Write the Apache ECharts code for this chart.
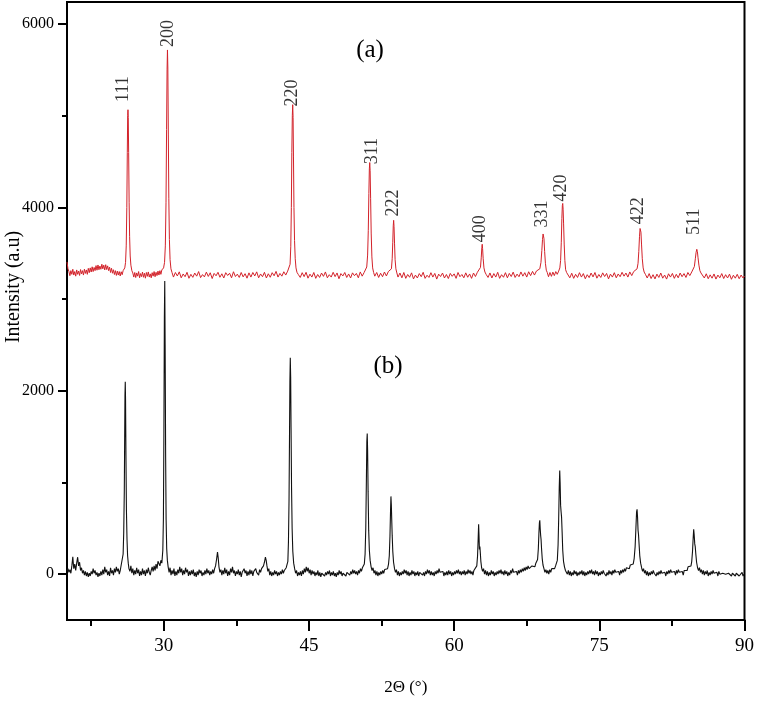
<!DOCTYPE html>
<html>
<head>
<meta charset="utf-8">
<script src="https://cdn.jsdelivr.net/npm/echarts@6/dist/echarts.min.js"></script>
<style>
  html, body { margin: 0; padding: 0; background: #fff; }
  #main { width: 757px; height: 701px; }
</style>
</head>
<body>
<div id="main"></div>
<script>
// pattern (a), red trace: [2theta, intensity]
var patternA = [
  [20.0,3405],[20.1,3330],[20.2,3300],[20.3,3255],[20.4,3310],[20.5,3270],[20.6,3325],[20.7,3262],[20.8,3300],[20.9,3250],
  [21.0,3318],[21.1,3270],[21.2,3306],[21.3,3258],[21.4,3322],[21.5,3275],[21.6,3310],[21.7,3262],[21.8,3326],[21.9,3280],
  [22.0,3318],[22.1,3270],[22.2,3335],[22.3,3288],[22.4,3340],[22.5,3295],[22.6,3352],[22.7,3300],[22.8,3345],[22.9,3310],
  [23.0,3365],[23.1,3315],[23.2,3372],[23.3,3320],[23.4,3360],[23.5,3325],[23.6,3380],[23.7,3330],[23.8,3370],[23.9,3318],
  [24.0,3375],[24.1,3322],[24.2,3362],[24.3,3310],[24.4,3348],[24.5,3290],[24.6,3336],[24.7,3282],[24.8,3320],[24.9,3268],
  [25.0,3310],[25.1,3258],[25.2,3305],[25.3,3262],[25.4,3300],[25.5,3252],[25.6,3298],[25.7,3266],[25.8,3310],[25.9,3290],
  [25.97,3340],[26.05,3400],[26.12,3580],[26.18,4000],[26.23,4600],[26.27,5000],[26.3,5065],[26.33,4980],[26.37,4600],[26.42,4050],
  [26.47,3680],[26.53,3470],[26.6,3370],[26.7,3310],[26.8,3285],[26.9,3240],[27.0,3290],[27.1,3235],[27.2,3285],[27.3,3250],
  [27.4,3300],[27.5,3232],[27.6,3278],[27.7,3245],[27.8,3295],[27.9,3238],[28.0,3282],[28.1,3228],[28.2,3290],[28.3,3248],
  [28.4,3296],[28.5,3240],[28.6,3275],[28.7,3232],[28.8,3288],[28.9,3250],[29.0,3300],[29.1,3244],[29.2,3292],[29.3,3256],
  [29.4,3305],[29.5,3262],[29.6,3310],[29.7,3270],[29.8,3318],[29.9,3300],[29.98,3340],[30.08,3400],[30.16,3580],[30.23,4050],
  [30.29,4850],[30.34,5500],[30.38,5717],[30.42,5520],[30.47,4800],[30.52,4100],[30.58,3650],[30.65,3430],[30.74,3330],[30.85,3290],
  [31.0,3240],[31.2,3290],[31.4,3252],[31.6,3297],[31.8,3232],[32.0,3274],[32.2,3244],[32.4,3292],[32.6,3227],[32.8,3270],
  [33.0,3237],[33.2,3284],[33.4,3250],[33.6,3300],[33.8,3234],[34.0,3267],[34.2,3242],[34.4,3294],[34.6,3247],[34.8,3287],
  [35.0,3224],[35.2,3280],[35.4,3254],[35.6,3292],[35.8,3238],[36.0,3276],[36.2,3230],[36.4,3288],[36.6,3257],[36.8,3282],
  [37.0,3232],[37.2,3298],[37.4,3246],[37.6,3272],[37.8,3236],[38.0,3290],[38.2,3242],[38.4,3277],[38.6,3228],[38.8,3286],
  [39.0,3240],[39.2,3290],[39.4,3252],[39.6,3297],[39.8,3232],[40.0,3274],[40.2,3244],[40.4,3292],[40.6,3230],[40.8,3276],
  [41.0,3238],[41.2,3288],[41.4,3254],[41.6,3302],[41.8,3240],[42.0,3280],[42.2,3250],[42.4,3298],[42.6,3262],[42.8,3305],
  [42.95,3315],[43.05,3380],[43.12,3570],[43.18,4000],[43.23,4600],[43.28,5000],[43.32,5120],[43.36,4980],[43.4,4550],[43.45,4000],
  [43.51,3640],[43.58,3440],[43.66,3340],[43.76,3292],[43.9,3268],[44.1,3236],[44.3,3288],[44.5,3245],[44.7,3292],[44.9,3228],
  [45.1,3272],[45.3,3240],[45.5,3290],[45.7,3226],[45.9,3268],[46.1,3236],[46.3,3284],[46.5,3248],[46.7,3296],[46.9,3232],
  [47.1,3266],[47.3,3240],[47.5,3292],[47.7,3245],[47.9,3285],[48.1,3222],[48.3,3278],[48.5,3252],[48.7,3290],[48.9,3236],
  [49.1,3274],[49.3,3230],[49.5,3286],[49.7,3255],[49.9,3280],[50.1,3232],[50.3,3296],[50.5,3250],[50.7,3290],[50.85,3305],
  [50.97,3350],[51.06,3480],[51.13,3750],[51.19,4150],[51.24,4420],[51.28,4489],[51.32,4400],[51.37,4100],[51.43,3720],[51.5,3460],
  [51.58,3340],[51.68,3290],[51.8,3250],[52.0,3290],[52.2,3236],[52.4,3282],[52.6,3244],[52.8,3295],[53.0,3252],[53.2,3300],
  [53.4,3285],[53.52,3330],[53.6,3440],[53.66,3620],[53.71,3800],[53.75,3859],[53.79,3790],[53.84,3610],[53.9,3430],[53.98,3330],
  [54.08,3285],[54.2,3240],[54.4,3284],[54.6,3232],[54.8,3290],[55.0,3226],[55.2,3268],[55.4,3238],[55.6,3286],[55.8,3220],
  [56.0,3262],[56.2,3230],[56.4,3278],[56.6,3244],[56.8,3292],[57.0,3226],[57.2,3260],[57.4,3236],[57.6,3288],[57.8,3240],
  [58.0,3280],[58.2,3218],[58.4,3272],[58.6,3246],[58.8,3284],[59.0,3230],[59.2,3268],[59.4,3224],[59.6,3280],[59.8,3248],
  [60.0,3275],[60.2,3226],[60.4,3290],[60.6,3244],[60.8,3268],[61.0,3232],[61.2,3286],[61.4,3238],[61.6,3274],[61.8,3226],
  [62.0,3284],[62.2,3246],[62.4,3292],[62.6,3300],[62.72,3345],[62.8,3450],[62.86,3560],[62.9,3598],[62.94,3550],[63.0,3440],
  [63.08,3340],[63.18,3295],[63.3,3270],[63.5,3236],[63.7,3285],[63.9,3230],[64.1,3278],[64.3,3240],[64.5,3292],[64.7,3226],
  [64.9,3266],[65.1,3238],[65.3,3288],[65.5,3232],[65.7,3280],[65.9,3246],[66.1,3294],[66.3,3236],[66.5,3272],[66.7,3244],
  [66.9,3296],[67.1,3250],[67.3,3288],[67.5,3240],[67.7,3298],[67.9,3256],[68.1,3302],[68.3,3262],[68.5,3306],[68.7,3296],
  [68.85,3330],[68.97,3400],[69.06,3530],[69.13,3650],[69.19,3710],[69.23,3717],[69.28,3660],[69.35,3520],[69.43,3390],[69.52,3315],
  [69.62,3290],[69.75,3244],[69.9,3290],[70.05,3248],[70.2,3294],[70.35,3256],[70.5,3300],[70.65,3270],[70.8,3305],[70.92,3340],
  [71.0,3420],[71.07,3620],[71.13,3880],[71.18,4020],[71.22,4043],[71.26,3980],[71.31,3820],[71.37,3600],[71.44,3420],[71.52,3320],
  [71.62,3290],[71.76,3270],[71.95,3232],[72.15,3282],[72.35,3226],[72.55,3270],[72.75,3236],[72.95,3288],[73.15,3240],[73.35,3278],
  [73.55,3222],[73.75,3266],[73.95,3234],[74.15,3284],[74.35,3242],[74.55,3290],[74.75,3228],[74.95,3268],[75.15,3236],[75.35,3286],
  [75.55,3246],[75.75,3280],[75.95,3220],[76.15,3272],[76.35,3240],[76.55,3288],[76.75,3232],[76.95,3274],[77.15,3244],[77.35,3292],
  [77.55,3250],[77.75,3284],[77.95,3240],[78.15,3296],[78.35,3256],[78.55,3300],[78.75,3298],[78.9,3330],[79.0,3390],[79.08,3520],
  [79.15,3680],[79.21,3770],[79.25,3783],[79.3,3730],[79.36,3600],[79.44,3440],[79.53,3340],[79.63,3295],[79.76,3270],[79.95,3230],
  [80.15,3278],[80.35,3224],[80.55,3266],[80.75,3220],[80.95,3272],[81.15,3236],[81.35,3284],[81.55,3228],[81.75,3262],[81.95,3218],
  [82.15,3276],[82.35,3240],[82.55,3280],[82.75,3226],[82.95,3270],[83.15,3232],[83.35,3284],[83.55,3244],[83.75,3278],[83.95,3236],
  [84.15,3290],[84.35,3256],[84.55,3296],[84.7,3310],[84.82,3355],[84.92,3440],[85.0,3510],[85.07,3543],[85.13,3520],[85.2,3450],
  [85.29,3370],[85.39,3310],[85.5,3285],[85.65,3272],[85.85,3230],[86.05,3276],[86.25,3222],[86.45,3264],[86.65,3228],[86.85,3274],
  [87.05,3218],[87.25,3262],[87.45,3232],[87.65,3278],[87.85,3224],[88.05,3266],[88.25,3230],[88.45,3272],[88.65,3216],[88.85,3260],
  [89.05,3228],[89.25,3270],[89.45,3222],[89.65,3262],[89.85,3230],[90.0,3252]
];

// pattern (b), black trace
var patternB = [
  [20.0,30],[20.1,60],[20.2,20],[20.3,50],[20.4,10],[20.5,90],[20.6,190],[20.65,120],[20.7,60],[20.8,110],
  [20.9,40],[21.0,120],[21.1,185],[21.2,90],[21.3,130],[21.4,40],[21.5,70],[21.6,10],[21.7,40],[21.8,-10],
  [21.9,30],[22.0,-20],[22.1,20],[22.2,-30],[22.3,10],[22.4,-20],[22.5,30],[22.6,0],[22.7,60],[22.8,10],
  [22.9,40],[23.0,-10],[23.1,20],[23.2,-30],[23.3,10],[23.4,-20],[23.5,30],[23.6,-10],[23.7,50],[23.8,0],
  [23.9,80],[24.0,20],[24.1,50],[24.2,-10],[24.3,30],[24.4,-20],[24.5,70],[24.6,10],[24.7,40],[24.8,-10],
  [24.9,60],[25.0,20],[25.1,80],[25.2,30],[25.3,60],[25.4,0],[25.5,40],[25.6,100],[25.7,90],[25.8,220],
  [25.86,450],[25.92,900],[25.96,1500],[25.99,1950],[26.02,2098],[26.05,1900],[26.09,1300],[26.14,700],[26.2,380],[26.26,200],
  [26.33,120],[26.4,60],[26.5,30],[26.6,90],[26.7,10],[26.8,60],[26.9,-10],[27.0,40],[27.1,0],[27.2,70],
  [27.3,10],[27.4,50],[27.5,-20],[27.6,30],[27.7,-10],[27.8,60],[27.9,0],[28.0,40],[28.1,-20],[28.2,50],
  [28.3,10],[28.4,70],[28.5,20],[28.6,-10],[28.7,40],[28.8,80],[28.9,30],[29.0,90],[29.1,40],[29.2,110],
  [29.3,60],[29.4,140],[29.5,120],[29.6,90],[29.7,150],[29.8,120],[29.9,260],[29.96,600],[30.01,1500],[30.06,2800],
  [30.1,3196],[30.14,2500],[30.19,1300],[30.24,600],[30.3,280],[30.37,150],[30.45,80],[30.55,20],[30.65,70],[30.75,-10],
  [30.85,40],[30.95,0],[31.05,60],[31.15,-20],[31.25,30],[31.35,-10],[31.45,50],[31.55,10],[31.65,80],[31.75,20],
  [31.85,60],[31.95,-10],[32.05,40],[32.15,0],[32.25,70],[32.35,20],[32.45,50],[32.55,-20],[32.65,30],[32.75,-10],
  [32.85,40],[32.95,0],[33.05,50],[33.15,-20],[33.25,20],[33.35,-30],[33.45,30],[33.55,-10],[33.65,50],[33.75,10],
  [33.85,40],[33.95,-20],[34.05,20],[34.15,-10],[34.25,40],[34.35,0],[34.45,60],[34.55,10],[34.65,40],[34.75,-10],
  [34.85,30],[34.95,0],[35.05,50],[35.15,10],[35.25,60],[35.35,90],[35.45,160],[35.55,240],[35.62,180],[35.7,80],
  [35.8,20],[35.9,50],[36.0,-10],[36.1,40],[36.2,0],[36.3,70],[36.4,10],[36.5,50],[36.6,-20],[36.7,30],
  [36.8,-10],[36.9,60],[37.0,20],[37.1,80],[37.2,10],[37.3,40],[37.4,-20],[37.5,30],[37.6,0],[37.7,50],
  [37.8,-10],[37.9,30],[38.0,-30],[38.1,20],[38.2,0],[38.3,60],[38.4,10],[38.5,40],[38.6,-20],[38.7,30],
  [38.8,-10],[38.9,50],[39.0,0],[39.1,40],[39.2,-20],[39.3,30],[39.4,10],[39.5,60],[39.6,20],[39.7,40],
  [39.8,-10],[39.9,50],[40.0,20],[40.1,60],[40.2,40],[40.3,90],[40.4,130],[40.5,185],[40.58,150],[40.66,90],
  [40.75,30],[40.85,60],[40.95,-10],[41.05,30],[41.15,-20],[41.25,20],[41.35,-10],[41.45,40],[41.55,0],[41.65,30],
  [41.75,-20],[41.85,20],[41.95,-10],[42.05,30],[42.15,0],[42.25,50],[42.35,10],[42.45,40],[42.55,20],[42.65,70],
  [42.75,60],[42.82,140],[42.88,350],[42.94,800],[42.99,1500],[43.03,2100],[43.07,2359],[43.11,2150],[43.15,1600],[43.2,950],
  [43.26,500],[43.33,250],[43.42,120],[43.52,60],[43.62,10],[43.72,40],[43.82,-20],[43.92,20],[44.02,-10],[44.12,30],
  [44.22,-20],[44.32,40],[44.42,0],[44.52,60],[44.62,20],[44.72,80],[44.82,30],[44.92,70],[45.02,10],[45.12,50],
  [45.22,-10],[45.32,40],[45.42,0],[45.52,30],[45.62,-20],[45.72,20],[45.82,-10],[45.92,40],[46.02,-20],[46.12,20],
  [46.22,-30],[46.32,10],[46.42,-10],[46.52,30],[46.62,-20],[46.72,20],[46.82,-10],[46.92,30],[47.02,0],[47.12,40],
  [47.22,-20],[47.32,20],[47.42,-10],[47.52,30],[47.62,-20],[47.72,10],[47.82,-30],[47.92,20],[48.02,-10],[48.12,40],
  [48.22,0],[48.32,30],[48.42,-20],[48.52,10],[48.62,-10],[48.72,30],[48.82,-20],[48.92,20],[49.02,0],[49.12,40],
  [49.22,-10],[49.32,30],[49.42,0],[49.52,50],[49.62,10],[49.72,40],[49.82,0],[49.92,30],[50.02,-10],[50.12,40],
  [50.22,10],[50.32,60],[50.42,30],[50.52,70],[50.62,60],[50.72,110],[50.8,220],[50.87,500],[50.93,1000],[50.98,1450],
  [51.02,1533],[51.06,1350],[51.11,900],[51.17,480],[51.24,260],[51.32,150],[51.42,80],[51.52,40],[51.62,70],[51.72,10],
  [51.82,40],[51.92,-10],[52.02,30],[52.12,-20],[52.22,20],[52.32,-10],[52.42,30],[52.52,0],[52.62,40],[52.72,10],
  [52.82,50],[52.92,30],[53.02,70],[53.12,60],[53.22,110],[53.3,200],[53.37,420],[53.43,700],[53.47,848],[53.51,760],
  [53.55,600],[53.6,420],[53.66,250],[53.74,130],[53.84,60],[53.94,20],[54.04,50],[54.14,-10],[54.24,30],[54.34,-20],
  [54.44,20],[54.54,-10],[54.64,30],[54.74,0],[54.84,50],[54.94,10],[55.04,40],[55.14,-10],[55.24,30],[55.34,-20],
  [55.44,20],[55.54,-10],[55.64,40],[55.74,0],[55.84,30],[55.94,-20],[56.04,20],[56.14,-10],[56.24,30],[56.34,-20],
  [56.44,20],[56.54,0],[56.64,40],[56.74,-10],[56.84,20],[56.94,-20],[57.04,30],[57.14,0],[57.24,50],[57.34,10],
  [57.44,40],[57.54,-10],[57.64,30],[57.74,-10],[57.84,20],[57.94,-20],[58.04,30],[58.14,0],[58.24,40],[58.34,10],
  [58.44,60],[58.54,20],[58.64,40],[58.74,0],[58.84,30],[58.94,-20],[59.04,20],[59.14,-10],[59.24,30],[59.34,-10],
  [59.44,40],[59.54,0],[59.64,30],[59.74,-20],[59.84,20],[59.94,-10],[60.04,30],[60.14,0],[60.24,40],[60.34,10],
  [60.44,50],[60.54,0],[60.64,30],[60.74,-10],[60.84,30],[60.94,0],[61.04,40],[61.14,-10],[61.24,30],[61.34,0],
  [61.44,50],[61.54,10],[61.64,40],[61.74,0],[61.84,30],[61.94,-10],[62.04,40],[62.14,20],[62.24,60],[62.34,90],
  [62.42,200],[62.48,380],[62.53,543],[62.57,420],[62.61,270],[62.66,300],[62.7,240],[62.76,140],[62.84,70],[62.94,30],
  [63.04,60],[63.14,0],[63.24,40],[63.34,-10],[63.44,30],[63.54,-20],[63.64,20],[63.74,-10],[63.84,40],[63.94,0],
  [64.04,30],[64.14,-20],[64.24,20],[64.34,-10],[64.44,30],[64.54,0],[64.64,40],[64.74,10],[64.84,50],[64.94,0],
  [65.04,30],[65.14,-10],[65.24,40],[65.34,0],[65.44,30],[65.54,-20],[65.64,20],[65.74,-10],[65.84,40],[65.94,10],
  [66.04,60],[66.14,20],[66.24,40],[66.34,0],[66.44,30],[66.54,-10],[66.64,40],[66.74,10],[66.84,50],[66.94,20],
  [67.04,60],[67.14,30],[67.24,70],[67.34,40],[67.44,80],[67.54,50],[67.64,90],[67.74,60],[67.84,80],[67.94,50],
  [68.04,90],[68.14,70],[68.24,110],[68.34,80],[68.44,120],[68.54,100],[68.62,160],[68.7,280],[68.76,450],[68.81,560],
  [68.85,587],[68.89,500],[68.94,420],[68.98,380],[69.03,280],[69.1,170],[69.18,100],[69.28,60],[69.38,20],[69.48,50],
  [69.58,10],[69.68,40],[69.78,0],[69.88,50],[69.98,20],[70.08,60],[70.18,40],[70.28,80],[70.38,60],[70.48,90],
  [70.58,80],[70.66,150],[70.74,320],[70.8,600],[70.86,950],[70.91,1130],[70.95,1000],[71.0,750],[71.05,680],[71.1,620],
  [71.16,450],[71.22,260],[71.3,140],[71.4,80],[71.5,40],[71.6,60],[71.7,0],[71.8,40],[71.9,-10],[72.0,30],
  [72.1,-20],[72.2,20],[72.3,-10],[72.4,40],[72.5,0],[72.6,30],[72.7,-20],[72.8,20],[72.9,-10],[73.0,30],
  [73.1,0],[73.2,40],[73.3,-10],[73.4,30],[73.5,-20],[73.6,20],[73.7,-10],[73.8,30],[73.9,0],[74.0,40],
  [74.1,10],[74.2,50],[74.3,0],[74.4,30],[74.5,-10],[74.6,40],[74.7,0],[74.8,30],[74.9,-20],[75.0,20],
  [75.1,-10],[75.2,30],[75.3,0],[75.4,40],[75.5,10],[75.6,30],[75.7,-20],[75.8,20],[75.9,-10],[76.0,40],
  [76.1,0],[76.2,30],[76.3,-10],[76.4,40],[76.5,10],[76.6,50],[76.7,20],[76.8,40],[76.9,0],[77.0,30],
  [77.1,-10],[77.2,40],[77.3,10],[77.4,50],[77.5,20],[77.6,60],[77.7,30],[77.8,70],[77.9,50],[78.0,90],
  [78.1,60],[78.2,100],[78.3,80],[78.4,120],[78.5,110],[78.6,170],[78.7,300],[78.78,500],[78.85,680],[78.9,707],
  [78.95,620],[79.0,480],[79.05,430],[79.1,340],[79.18,200],[79.27,120],[79.37,70],[79.47,30],[79.57,60],[79.67,10],
  [79.77,40],[79.87,-10],[79.97,30],[80.07,-20],[80.17,20],[80.27,-10],[80.37,30],[80.47,0],[80.57,40],[80.67,10],
  [80.77,30],[80.87,-20],[80.97,20],[81.07,-10],[81.17,30],[81.27,0],[81.37,40],[81.47,10],[81.57,30],[81.67,-10],
  [81.77,20],[81.87,-20],[81.97,30],[82.07,0],[82.17,40],[82.27,10],[82.37,50],[82.47,20],[82.57,40],[82.67,0],
  [82.77,30],[82.87,-10],[82.97,40],[83.07,10],[83.17,50],[83.27,20],[83.37,40],[83.47,0],[83.57,30],[83.67,-10],
  [83.77,40],[83.87,20],[83.97,60],[84.07,40],[84.17,80],[84.27,60],[84.37,100],[84.47,90],[84.55,140],[84.63,250],
  [84.7,400],[84.75,489],[84.8,430],[84.86,330],[84.91,300],[84.97,220],[85.05,130],[85.15,70],[85.25,40],[85.35,70],
  [85.45,20],[85.55,50],[85.65,0],[85.75,40],[85.85,-10],[85.95,30],[86.05,0],[86.15,40],[86.25,-20],[86.35,20],
  [86.45,-10],[86.55,30],[86.65,0],[86.75,40],[86.85,10],[86.95,30],[87.05,-10],[87.15,20],[87.25,-20],[87.35,30],
  [87.45,0],[87.55,20],[87.65,-20],[87.75,10],[87.85,-10],[87.95,30],[88.05,0],[88.15,20],[88.25,-20],[88.35,10],
  [88.45,-10],[88.55,20],[88.65,-20],[88.75,10],[88.85,-10],[88.95,20],[89.05,-20],[89.15,10],[89.25,-10],[89.35,20],
  [89.45,-20],[89.55,0],[89.65,-10],[89.75,20],[89.85,-20],[89.95,0]
];

// hkl labels over the red peaks: text, 2theta of the label, intensity at the label foot
var peakLabels = ['111', '200', '220', '311', '222', '400', '331', '420', '422', '511'];
var peakLabelTheta = [25.8, 30.43, 43.24, 51.51, 53.68, 62.67, 69.07, 71.03, 78.99, 84.77];
var peakLabelFoot = [5150, 5750, 5100, 4470, 3900, 3620, 3780, 4065, 3815, 3700];

var xMajorTicks = [30, 45, 60, 75, 90];
var xMinorTicks = [22.5, 37.5, 52.5, 67.5, 82.5];
var yMajorTicks = [0, 2000, 4000, 6000];
var yMinorTicks = [1000, 3000, 5000];

var serif = 'Liberation Serif';

var labelData = peakLabels.map(function (t, i) {
  return { name: t, value: [peakLabelTheta[i], peakLabelFoot[i]] };
});

var chartDom = document.getElementById('main');
var myChart = echarts.init(chartDom);
var option;

option = {
  animation: false,
  backgroundColor: '#fff',
  grid: {
    left: 67, right: 12, top: 2, bottom: 79,
    show: true, borderColor: '#000', borderWidth: 2
  },
  xAxis: [
    {
      type: 'value', min: 20, max: 90, position: 'bottom',
      axisLine: { show: true, onZero: false, lineStyle: { color: '#000', width: 2 } },
      axisTick: { show: true, customValues: xMajorTicks, length: 11, lineStyle: { color: '#000', width: 2 } },
      axisLabel: { customValues: xMajorTicks, color: '#000', fontFamily: serif, fontSize: 19, margin: 17 },
      splitLine: { show: false },
      name: '2\u0398 (\u00b0)', nameLocation: 'middle', nameGap: 59,
      nameTextStyle: { color: '#000', fontFamily: serif, fontSize: 17 }
    },
    {
      type: 'value', min: 20, max: 90, position: 'bottom',
      axisLine: { show: false, onZero: false },
      axisTick: { show: true, customValues: xMinorTicks, length: 6, lineStyle: { color: '#000', width: 2 } },
      axisLabel: { show: false },
      splitLine: { show: false }
    }
  ],
  yAxis: [
    {
      type: 'value', min: -500, max: 6240, position: 'left',
      axisLine: { show: true, onZero: false, lineStyle: { color: '#000', width: 2 } },
      axisTick: { show: true, customValues: yMajorTicks, length: 9, lineStyle: { color: '#000', width: 2 } },
      axisLabel: {
        customValues: yMajorTicks, color: '#000', fontFamily: serif, fontSize: 16, margin: 13,
        formatter: function (v) { return String(v); }
      },
      splitLine: { show: false }
    },
    {
      type: 'value', min: -500, max: 6240, position: 'left',
      axisLine: { show: false, onZero: false },
      axisTick: { show: true, customValues: yMinorTicks, length: 5, lineStyle: { color: '#000', width: 2 } },
      axisLabel: { show: false },
      splitLine: { show: false }
    }
  ],
  graphic: [
    {
      type: 'text', x: 14, y: 287, rotation: Math.PI / 2,
      style: { text: 'Intensity (a.u)', fill: '#000', font: '20px "Liberation Serif"', textAlign: 'center', textVerticalAlign: 'middle' }
    },
    {
      type: 'text', x: 370, y: 50,
      style: { text: '(a)', fill: '#000', font: '25px "Liberation Serif"', textAlign: 'center', textVerticalAlign: 'middle' }
    },
    {
      type: 'text', x: 388, y: 366,
      style: { text: '(b)', fill: '#000', font: '25px "Liberation Serif"', textAlign: 'center', textVerticalAlign: 'middle' }
    }
  ],
  series: [
    {
      name: '(b)', type: 'line', data: patternB, showSymbol: false, silent: true,
      lineStyle: { color: '#111', width: 1.1 }, z: 2
    },
    {
      name: '(a)', type: 'line', data: patternA, showSymbol: false, silent: true,
      lineStyle: { color: '#d3222a', width: 1 }, z: 3
    },
    {
      name: 'hkl', type: 'scatter', data: labelData, symbolSize: 0, silent: true, z: 4,
      label: {
        show: true, formatter: '{b}', position: [0, 0], rotate: 90,
        align: 'left', verticalAlign: 'middle',
        color: '#000', fontFamily: serif, fontSize: 18
      }
    }
  ]
};

if (chartDom && myChart) {
  myChart.setOption(option);
} else {
  console.error('Failed to initialize the chart');
}
</script>
</body>
</html>
